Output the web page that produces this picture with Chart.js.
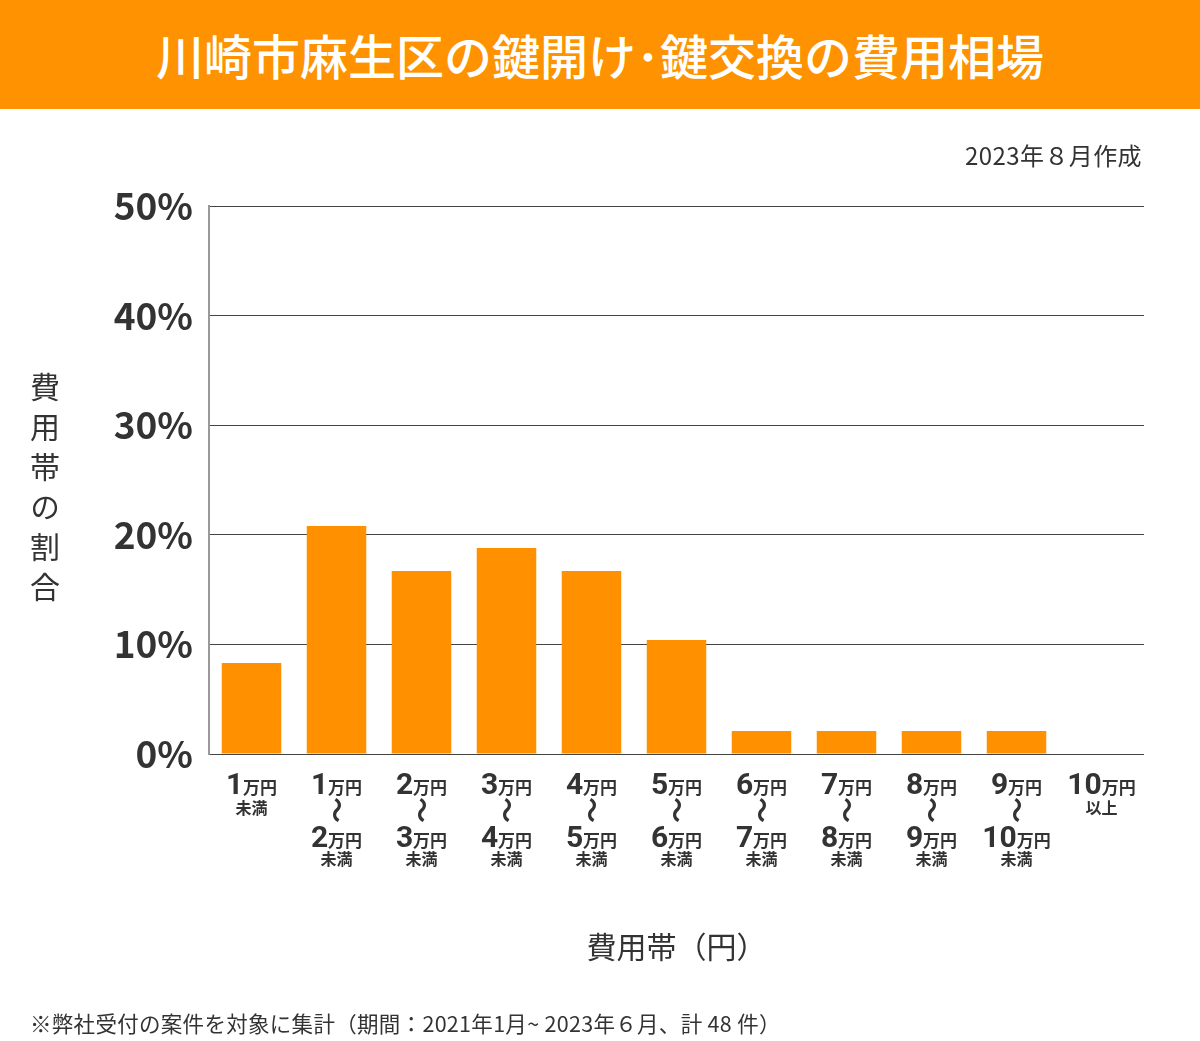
<!DOCTYPE html>
<html><head><meta charset="utf-8">
<script src="https://cdn.jsdelivr.net/npm/chart.js@4"></script>
<style>
html,body{margin:0;padding:0;background:#fff;width:1200px;height:1041px;overflow:hidden;font-family:"Noto Sans CJK JP","Noto Sans",sans-serif;}
#banner{position:absolute;left:0;top:0;width:1200px;height:109px;background:#FF9200;color:#fff;font-size:48px;font-weight:500;text-align:center;line-height:109px;}
#date{position:absolute;right:58px;top:138px;font-size:24px;color:#333;line-height:34px;letter-spacing:0.4px;}
#ytitle{position:absolute;left:27px;top:372px;writing-mode:vertical-rl;font-size:30px;color:#333;letter-spacing:10px;line-height:36px;}
#note{position:absolute;left:30px;top:1008px;font-size:21.5px;color:#333;line-height:30px;letter-spacing:0.3px;}
#wrap{position:absolute;left:0;top:0;width:1200px;height:1041px;}
</style></head>
<body>
<div id="wrap"><canvas id="c"></canvas></div>
<div id="banner">川崎市麻生区の鍵開け･鍵交換の費用相場</div>
<div id="date">2023年８月作成</div>
<div id="ytitle">費用帯の割合</div>
<div id="note">※弊社受付の案件を対象に集計（期間：2021年1月~ 2023年６月、計 48 件）</div>
<script>
const categories = ['1万円未満','1万円〜2万円未満','2万円〜3万円未満','3万円〜4万円未満','4万円〜5万円未満','5万円〜6万円未満','6万円〜7万円未満','7万円〜8万円未満','8万円〜9万円未満','9万円〜10万円未満','10万円以上'];
const shares = [8.3, 20.8, 16.7, 18.8, 16.7, 10.4, 2.1, 2.1, 2.1, 2.1, 0];
const yTicks = [0, 10, 20, 30, 40, 50];
const xTitle = '費用帯（円）';

const FONT = '"Noto Sans CJK JP","Noto Sans",sans-serif';
const NUMFONT = 'Roboto,"Noto Sans",sans-serif';

function drawAmount(ctx, text, cx, baseline){
  const m = text.match(/^(\d+)(.*)$/);
  const num = m[1], unit = m[2];
  ctx.font = 'bold 30px ' + NUMFONT;
  const wn = ctx.measureText(num).width;
  ctx.font = 'bold 17px ' + FONT;
  const wu = ctx.measureText(unit).width;
  const x0 = cx - (wn + wu)/2;
  ctx.textAlign = 'left';
  ctx.textBaseline = 'alphabetic';
  ctx.font = 'bold 30px ' + NUMFONT;
  ctx.fillText(num, x0, baseline);
  ctx.font = 'bold 17px ' + FONT;
  ctx.fillText(unit, x0 + wn, baseline);
}

const xLabelPlugin = {
  id: 'xLabels',
  afterDraw(chart){
    const ctx = chart.ctx;
    const xs = chart.scales.x;
    const axisY = chart.chartArea.bottom;
    ctx.save();
    ctx.fillStyle = '#333';
    categories.forEach((lab, i) => {
      const cx = xs.getPixelForValue(i);
      const parts = lab.split('〜');
      const suffixMatch = parts[parts.length-1].match(/(未満|以上)$/);
      const suffix = suffixMatch ? suffixMatch[1] : '';
      const strip = s => s.replace(/(未満|以上)$/, '');
      drawAmount(ctx, strip(parts[0]), cx, axisY + 40);
      let suffixY;
      if (parts.length > 1) {
        ctx.save();
        ctx.translate(cx, axisY + 56);
        ctx.rotate(Math.PI/2);
        ctx.font = 'bold 26px ' + FONT;
        ctx.textAlign = 'center';
        ctx.textBaseline = 'middle';
        ctx.fillText('〜', 0, 0);
        ctx.restore();
        drawAmount(ctx, strip(parts[1]), cx, axisY + 93);
        suffixY = axisY + 105;
      } else {
        suffixY = axisY + 54;
      }
      if (suffix) {
        ctx.font = 'bold 16px ' + FONT;
        ctx.textAlign = 'center';
        ctx.textBaseline = 'middle';
        ctx.fillText(suffix, cx, suffixY);
      }
    });
    ctx.restore();
  }
};

new Chart(document.getElementById('c'), {
  type: 'bar',
  data: {
    labels: categories,
    datasets: [{
      data: shares,
      backgroundColor: '#FF9100',
      borderWidth: 0,
      barPercentage: 0.7,
      categoryPercentage: 1.0
    }]
  },
  options: {
    responsive: true,
    maintainAspectRatio: false,
    animation: false,
    devicePixelRatio: 1,
    layout: { padding: { left: 100, right: 56, top: 206, bottom: 70 } },
    plugins: { legend: { display: false }, tooltip: { enabled: false } },
    scales: {
      x: {
        grid: { display: false, drawTicks: false },
        border: { display: false },
        ticks: { display: false },
        title: { display: true, text: xTitle, color: '#333', font: { family: FONT, size: 30, weight: 'normal' }, padding: { top: 0, bottom: 6 } },
        afterFit(s){ s.height = 217; }
      },
      y: {
        min: 0, max: 50,
        afterBuildTicks(s){ s.ticks = yTicks.map(v => ({ value: v })); },
        grid: { color: '#444', lineWidth: 1, drawTicks: false },
        border: { display: true, color: '#999', width: 2 },
        ticks: {
          padding: 16,
          color: '#333',
          font: { family: FONT, size: 37, weight: 'bold' },
          callback: v => v + '%'
        },
        afterFit(s){ s.width = 109; }
      }
    }
  },
  plugins: [xLabelPlugin]
});
</script>
</body></html>
